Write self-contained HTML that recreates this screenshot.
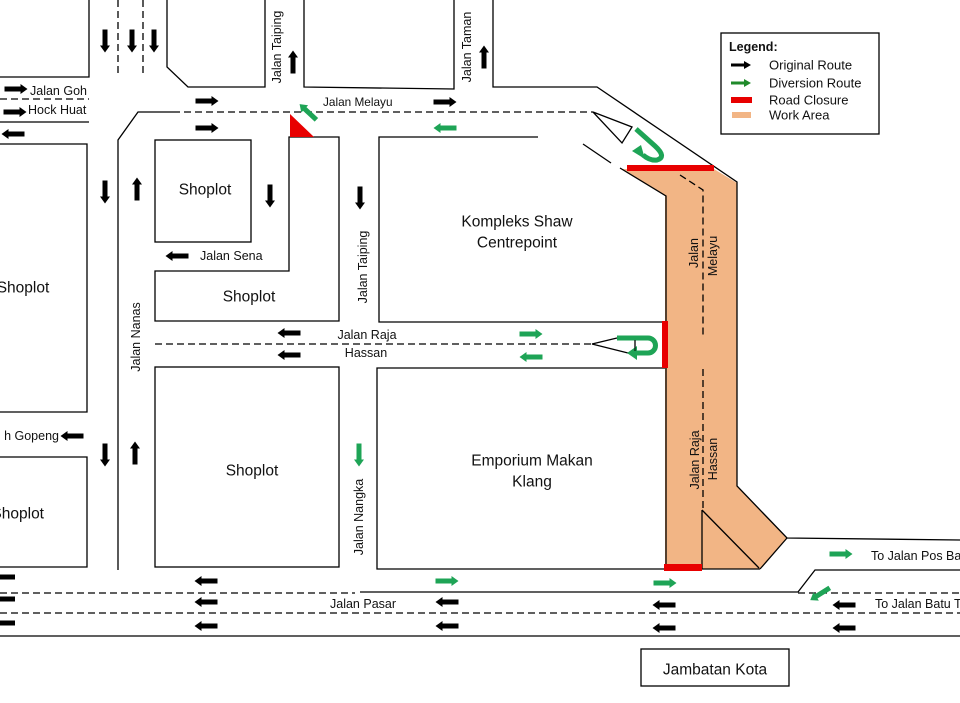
<!DOCTYPE html>
<html><head><meta charset="utf-8"><style>
html,body{margin:0;padding:0;background:#fff;}
svg{display:block;}
text{font-family:"Liberation Sans",sans-serif;fill:#111;}
</style></head><body>
<svg width="960" height="703" viewBox="0 0 960 703" xmlns="http://www.w3.org/2000/svg">
<rect width="960" height="703" fill="#fff"/>
<!-- work area -->
<polygon points="622,169 714,169 737,183 737,486 787,538 760,569 665,569 665,196" fill="#f2b585"/>
<!-- solid lines -->
<g stroke="#000" stroke-width="1.3" fill="none">
<path d="M89,0 V77 H0"/>
<path d="M167,0 V67 L188,87 H265 V0"/>
<path d="M304,0 V87 L454,89 V0"/>
<path d="M493,0 V87 H597 L737,182 V486 L787,538 L960,540"/>
<path d="M0,122 H89"/>
<path d="M0,144 H87 V412 H0"/>
<path d="M0,457 H87 V567 H0"/>
<path d="M173,112 H138 L118,140 V570"/>
<rect x="155" y="140" width="96" height="102"/>
<path d="M289,137 H339 V321 H155 V271 H289 Z"/>
<path d="M538,137 H379 V322 H665"/>
<path d="M620,168 L666,196 V569"/>
<path d="M583,144 L611,163"/>
<path d="M593,112 L632,127 L622,143 Z"/>
<path d="M592,344 L617,338 M592,344 L632,354 M635,338 V352"/>
<rect x="155" y="367" width="184" height="200"/>
<path d="M665,368 H377 V569 H760"/>
<path d="M702,510 V569 M702,510 L759,568"/>
<path d="M787,538 L760,569"/>
<path d="M360,592 H798 L815,570 H960"/>
<path d="M0,636 H960"/>
<rect x="641" y="649" width="148" height="37"/>
<rect x="721" y="33" width="158" height="101"/>
</g>
<!-- dashed lines -->
<g stroke="#000" stroke-width="1.3" fill="none" stroke-dasharray="7,4">
<path d="M118,0 V77 M143,0 V77"/>
<path d="M0,99 H89"/>
<path d="M173,112 H593"/>
<path d="M155,344 H592"/>
<path d="M0,593 H355"/>
<path d="M798,593 H960"/>
<path d="M0,613 H960"/>
<path d="M680,175 L703,190 V338"/>
<path d="M703,369 V510"/>
</g>
<!-- red closures -->
<polygon points="290,114 290,137 314,137" fill="#e80000"/>
<rect x="627" y="165" width="87" height="6" fill="#e80000"/>
<rect x="662" y="321" width="6" height="47" fill="#e80000"/>
<rect x="664" y="564" width="38" height="7" fill="#e80000"/>
<!-- U-turns -->
<g stroke="#1ea456" stroke-width="5" fill="none">
<path d="M636,129 L655,146 Q667,157 657,160 Q650,161 643,155"/>
<path d="M617,338 L648,338 A7.5,7.5 0 0 1 648,353 L636,353"/>
</g>
<polygon points="632,151 641,145 645,159" fill="#1ea456"/>
<polygon points="627,353 637,346 637,360" fill="#1ea456"/>
<line x1="635" y1="340" x2="635" y2="351" stroke="#000" stroke-width="1"/>
<!-- black arrows -->
<g fill="#000">
<polygon transform="translate(105,41) rotate(90)" points="-11.5,-2.5 4.5,-2.5 4.5,-5 11.5,0 4.5,5 4.5,2.5 -11.5,2.5"/>
<polygon transform="translate(132,41) rotate(90)" points="-11.5,-2.5 4.5,-2.5 4.5,-5 11.5,0 4.5,5 4.5,2.5 -11.5,2.5"/>
<polygon transform="translate(154,41) rotate(90)" points="-11.5,-2.5 4.5,-2.5 4.5,-5 11.5,0 4.5,5 4.5,2.5 -11.5,2.5"/>
<polygon transform="translate(293,62) rotate(-90)" points="-11.5,-2.5 4.5,-2.5 4.5,-5 11.5,0 4.5,5 4.5,2.5 -11.5,2.5"/>
<polygon transform="translate(484,57) rotate(-90)" points="-11.5,-2.5 4.5,-2.5 4.5,-5 11.5,0 4.5,5 4.5,2.5 -11.5,2.5"/>
<polygon transform="translate(16,89)" points="-11.5,-2.5 4.5,-2.5 4.5,-5 11.5,0 4.5,5 4.5,2.5 -11.5,2.5"/>
<polygon transform="translate(15,112)" points="-11.5,-2.5 4.5,-2.5 4.5,-5 11.5,0 4.5,5 4.5,2.5 -11.5,2.5"/>
<polygon transform="translate(13,134) rotate(180)" points="-11.5,-2.5 4.5,-2.5 4.5,-5 11.5,0 4.5,5 4.5,2.5 -11.5,2.5"/>
<polygon transform="translate(207,101)" points="-11.5,-2.5 4.5,-2.5 4.5,-5 11.5,0 4.5,5 4.5,2.5 -11.5,2.5"/>
<polygon transform="translate(207,128)" points="-11.5,-2.5 4.5,-2.5 4.5,-5 11.5,0 4.5,5 4.5,2.5 -11.5,2.5"/>
<polygon transform="translate(445,102)" points="-11.5,-2.5 4.5,-2.5 4.5,-5 11.5,0 4.5,5 4.5,2.5 -11.5,2.5"/>
<polygon transform="translate(105,192) rotate(90)" points="-11.5,-2.5 4.5,-2.5 4.5,-5 11.5,0 4.5,5 4.5,2.5 -11.5,2.5"/>
<polygon transform="translate(137,189) rotate(-90)" points="-11.5,-2.5 4.5,-2.5 4.5,-5 11.5,0 4.5,5 4.5,2.5 -11.5,2.5"/>
<polygon transform="translate(270,196) rotate(90)" points="-11.5,-2.5 4.5,-2.5 4.5,-5 11.5,0 4.5,5 4.5,2.5 -11.5,2.5"/>
<polygon transform="translate(360,198) rotate(90)" points="-11.5,-2.5 4.5,-2.5 4.5,-5 11.5,0 4.5,5 4.5,2.5 -11.5,2.5"/>
<polygon transform="translate(177,256) rotate(180)" points="-11.5,-2.5 4.5,-2.5 4.5,-5 11.5,0 4.5,5 4.5,2.5 -11.5,2.5"/>
<polygon transform="translate(289,333) rotate(180)" points="-11.5,-2.5 4.5,-2.5 4.5,-5 11.5,0 4.5,5 4.5,2.5 -11.5,2.5"/>
<polygon transform="translate(289,355) rotate(180)" points="-11.5,-2.5 4.5,-2.5 4.5,-5 11.5,0 4.5,5 4.5,2.5 -11.5,2.5"/>
<polygon transform="translate(72,436) rotate(180)" points="-11.5,-2.5 4.5,-2.5 4.5,-5 11.5,0 4.5,5 4.5,2.5 -11.5,2.5"/>
<polygon transform="translate(105,455) rotate(90)" points="-11.5,-2.5 4.5,-2.5 4.5,-5 11.5,0 4.5,5 4.5,2.5 -11.5,2.5"/>
<polygon transform="translate(135,453) rotate(-90)" points="-11.5,-2.5 4.5,-2.5 4.5,-5 11.5,0 4.5,5 4.5,2.5 -11.5,2.5"/>
<polygon transform="translate(3.5,577) rotate(180)" points="-11.5,-2.5 4.5,-2.5 4.5,-5 11.5,0 4.5,5 4.5,2.5 -11.5,2.5"/>
<polygon transform="translate(3.5,599) rotate(180)" points="-11.5,-2.5 4.5,-2.5 4.5,-5 11.5,0 4.5,5 4.5,2.5 -11.5,2.5"/>
<polygon transform="translate(3.5,623) rotate(180)" points="-11.5,-2.5 4.5,-2.5 4.5,-5 11.5,0 4.5,5 4.5,2.5 -11.5,2.5"/>
<polygon transform="translate(206,581) rotate(180)" points="-11.5,-2.5 4.5,-2.5 4.5,-5 11.5,0 4.5,5 4.5,2.5 -11.5,2.5"/>
<polygon transform="translate(206,602) rotate(180)" points="-11.5,-2.5 4.5,-2.5 4.5,-5 11.5,0 4.5,5 4.5,2.5 -11.5,2.5"/>
<polygon transform="translate(206,626) rotate(180)" points="-11.5,-2.5 4.5,-2.5 4.5,-5 11.5,0 4.5,5 4.5,2.5 -11.5,2.5"/>
<polygon transform="translate(447,602) rotate(180)" points="-11.5,-2.5 4.5,-2.5 4.5,-5 11.5,0 4.5,5 4.5,2.5 -11.5,2.5"/>
<polygon transform="translate(447,626) rotate(180)" points="-11.5,-2.5 4.5,-2.5 4.5,-5 11.5,0 4.5,5 4.5,2.5 -11.5,2.5"/>
<polygon transform="translate(664,605) rotate(180)" points="-11.5,-2.5 4.5,-2.5 4.5,-5 11.5,0 4.5,5 4.5,2.5 -11.5,2.5"/>
<polygon transform="translate(664,628) rotate(180)" points="-11.5,-2.5 4.5,-2.5 4.5,-5 11.5,0 4.5,5 4.5,2.5 -11.5,2.5"/>
<polygon transform="translate(844,605) rotate(180)" points="-11.5,-2.5 4.5,-2.5 4.5,-5 11.5,0 4.5,5 4.5,2.5 -11.5,2.5"/>
<polygon transform="translate(844,628) rotate(180)" points="-11.5,-2.5 4.5,-2.5 4.5,-5 11.5,0 4.5,5 4.5,2.5 -11.5,2.5"/>
<polygon transform="translate(741,65)" points="-10,-1.5 3,-1.5 3,-4 10,0 3,4 3,1.5 -10,1.5"/>
</g>
<!-- green arrows -->
<g fill="#1ea456">
<polygon transform="translate(308,112) rotate(-137)" points="-11.5,-2.5 4.5,-2.5 4.5,-5 11.5,0 4.5,5 4.5,2.5 -11.5,2.5"/>
<polygon transform="translate(445,128) rotate(180)" points="-11.5,-2.5 4.5,-2.5 4.5,-5 11.5,0 4.5,5 4.5,2.5 -11.5,2.5"/>
<polygon transform="translate(531,334)" points="-11.5,-2.5 4.5,-2.5 4.5,-5 11.5,0 4.5,5 4.5,2.5 -11.5,2.5"/>
<polygon transform="translate(531,357) rotate(180)" points="-11.5,-2.5 4.5,-2.5 4.5,-5 11.5,0 4.5,5 4.5,2.5 -11.5,2.5"/>
<polygon transform="translate(359,455) rotate(90)" points="-11.5,-2.5 4.5,-2.5 4.5,-5 11.5,0 4.5,5 4.5,2.5 -11.5,2.5"/>
<polygon transform="translate(447,581)" points="-11.5,-2.5 4.5,-2.5 4.5,-5 11.5,0 4.5,5 4.5,2.5 -11.5,2.5"/>
<polygon transform="translate(665,583)" points="-11.5,-2.5 4.5,-2.5 4.5,-5 11.5,0 4.5,5 4.5,2.5 -11.5,2.5"/>
<polygon transform="translate(841,554)" points="-11.5,-2.5 4.5,-2.5 4.5,-5 11.5,0 4.5,5 4.5,2.5 -11.5,2.5"/>
<polygon transform="translate(820,594) rotate(148)" points="-11.5,-2.5 4.5,-2.5 4.5,-5 11.5,0 4.5,5 4.5,2.5 -11.5,2.5"/>
</g>
<polygon transform="translate(741,83)" points="-10,-1.5 3,-1.5 3,-4 10,0 3,4 3,1.5 -10,1.5" fill="#1f8a2a"/>
<rect x="731" y="97" width="21" height="6" fill="#e80000"/>
<rect x="732" y="112" width="19" height="6" fill="#f2b585"/>
<!-- labels -->
<g font-size="12.5" dominant-baseline="central">
<text x="30" y="91">Jalan Goh</text>
<text x="28" y="110">Hock Huat</text>
<text x="59" y="436" text-anchor="end">h Gopeng</text>
<text x="323" y="102" font-size="11.8">Jalan Melayu</text>
<text x="200" y="256">Jalan Sena</text>
<text x="367" y="335" text-anchor="middle">Jalan Raja</text>
<text x="366" y="353" text-anchor="middle">Hassan</text>
<text x="330" y="604">Jalan Pasar</text>
<text x="871" y="556">To Jalan Pos Bahru</text>
<text x="875" y="604">To Jalan Batu Tiga</text>
<text transform="translate(277,47) rotate(-90)" text-anchor="middle">Jalan Taiping</text>
<text transform="translate(467,47) rotate(-90)" text-anchor="middle">Jalan Taman</text>
<text transform="translate(363,267) rotate(-90)" text-anchor="middle">Jalan Taiping</text>
<text transform="translate(136,337) rotate(-90)" text-anchor="middle">Jalan Nanas</text>
<text transform="translate(359,517) rotate(-90)" text-anchor="middle">Jalan Nangka</text>
<text transform="translate(694,253) rotate(-90)" text-anchor="middle">Jalan</text>
<text transform="translate(713,256) rotate(-90)" text-anchor="middle">Melayu</text>
<text transform="translate(695,460) rotate(-90)" text-anchor="middle">Jalan Raja</text>
<text transform="translate(713,459) rotate(-90)" text-anchor="middle">Hassan</text>
</g>
<g font-size="15.5" dominant-baseline="central" text-anchor="middle">
<text x="205" y="190">Shoplot</text>
<text x="249" y="297">Shoplot</text>
<text x="23" y="288">Shoplot</text>
<text x="252" y="471">Shoplot</text>
<text x="44" y="514" text-anchor="end">Shoplot</text>
<text x="517" y="222">Kompleks Shaw</text>
<text x="517" y="243">Centrepoint</text>
<text x="532" y="461">Emporium Makan</text>
<text x="532" y="482">Klang</text>
<text x="715" y="670">Jambatan Kota</text>
</g>
<g font-size="13" dominant-baseline="central">
<text x="729" y="47" font-weight="bold" font-size="12.5">Legend:</text>
<text x="769" y="65">Original Route</text>
<text x="769" y="83">Diversion Route</text>
<text x="769" y="100">Road Closure</text>
<text x="769" y="115">Work Area</text>
</g>
</svg>
</body></html>
